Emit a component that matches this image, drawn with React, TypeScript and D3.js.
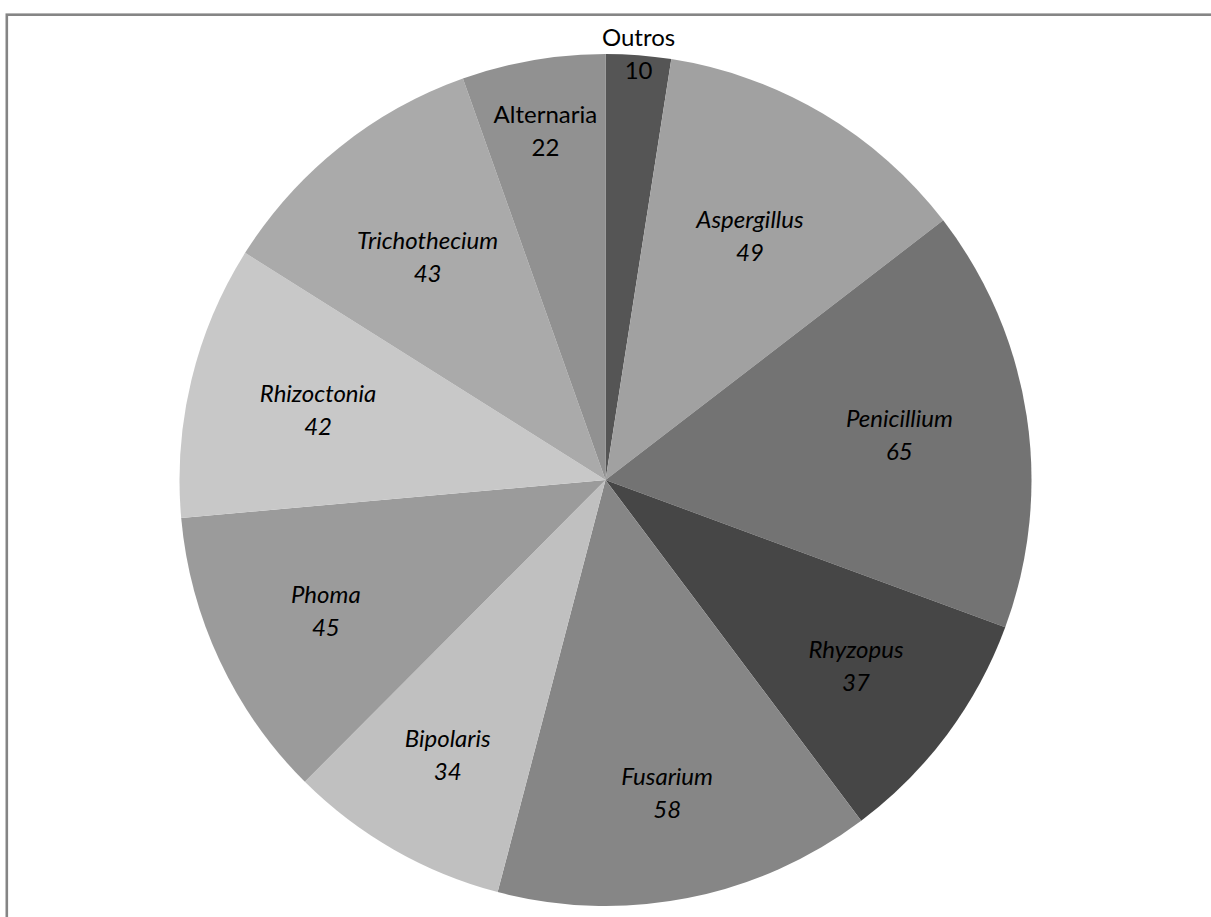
import React from "react";
import * as d3 from "d3";

// Fungal genera and isolate counts, clockwise from 12 o'clock
const categories = [
  "Outros",
  "Aspergillus",
  "Penicillium",
  "Rhyzopus",
  "Fusarium",
  "Bipolaris",
  "Phoma",
  "Rhizoctonia",
  "Trichothecium",
  "Alternaria",
];
const counts = [10, 49, 65, 37, 58, 34, 45, 42, 43, 22];
const italicNames = [false, true, true, true, true, true, true, true, true, false];
const sliceColors = [
  "#555555",
  "#a1a1a1",
  "#737373",
  "#464646",
  "#868686",
  "#c0c0c0",
  "#9b9b9b",
  "#c8c8c8",
  "#aaaaaa",
  "#919191",
];

const W = 1211;
const H = 917;
const CX = 605.5;
const CY = 480;
const R = 426;
const FONT = 24;
const LINE = 33;

type Slice = { name: string; value: number; color: string; italic: boolean };

export default function App() {
  const rows: Slice[] = categories.map((name, i) => ({
    name,
    value: counts[i],
    color: sliceColors[i],
    italic: italicNames[i],
  }));

  const pie = d3
    .pie<Slice>()
    .value((d) => d.value)
    .sort(null)
    .startAngle(0)
    .endAngle(2 * Math.PI);
  const arcs = pie(rows);
  const arc = d3.arc<d3.PieArcDatum<Slice>>().innerRadius(0).outerRadius(R);

  // "best fit" labels: inside the wedge (a little deeper on the lower half),
  // pushed outward when the wedge is too narrow for the text, and outside
  // the pie when it still won't fit
  const labelPos = (a: d3.PieArcDatum<Slice>) => {
    const mid = (a.startAngle + a.endAngle) / 2;
    const span = a.endAngle - a.startAngle;
    const textW = a.data.name.length * FONT * 0.48;
    const inner = R * (0.705 - 0.047 * Math.cos(mid));
    let r = Math.max(inner, (textW + 5) / (2 * Math.sin(span / 2)));
    if (r > 0.9 * R) r = R + 1;
    return [CX + r * Math.sin(mid), CY - r * Math.cos(mid)];
  };

  return (
    <svg
      width={W}
      height={H}
      style={{ position: "absolute", left: 0, top: 0, background: "#fff" }}
    >
      <rect x={0} y={0} width={W} height={H} fill="#fff" />
      {/* chart area frame */}
      <rect
        x={6.8}
        y={14.7}
        width={W + 50}
        height={H + 50}
        fill="none"
        stroke="#858585"
        strokeWidth={2.6}
      />
      <g transform={`translate(${CX},${CY})`}>
        {arcs.map((a, i) => (
          <path key={i} d={arc(a) || ""} fill={a.data.color} />
        ))}
      </g>
      <g
        fontFamily="Lato, 'Open Sans', sans-serif"
        fontSize={FONT}
        fill="#000"
        textAnchor="middle"
      >
        {arcs.map((a, i) => {
          const [x, y] = labelPos(a);
          return (
            <text
              key={i}
              x={x}
              y={y}
              fontStyle={a.data.italic ? "italic" : "normal"}
            >
              <tspan x={x} dy={-LINE / 2 + 8}>
                {a.data.name}
              </tspan>
              <tspan x={x} dy={LINE}>
                {a.data.value}
              </tspan>
            </text>
          );
        })}
      </g>
    </svg>
  );
}
